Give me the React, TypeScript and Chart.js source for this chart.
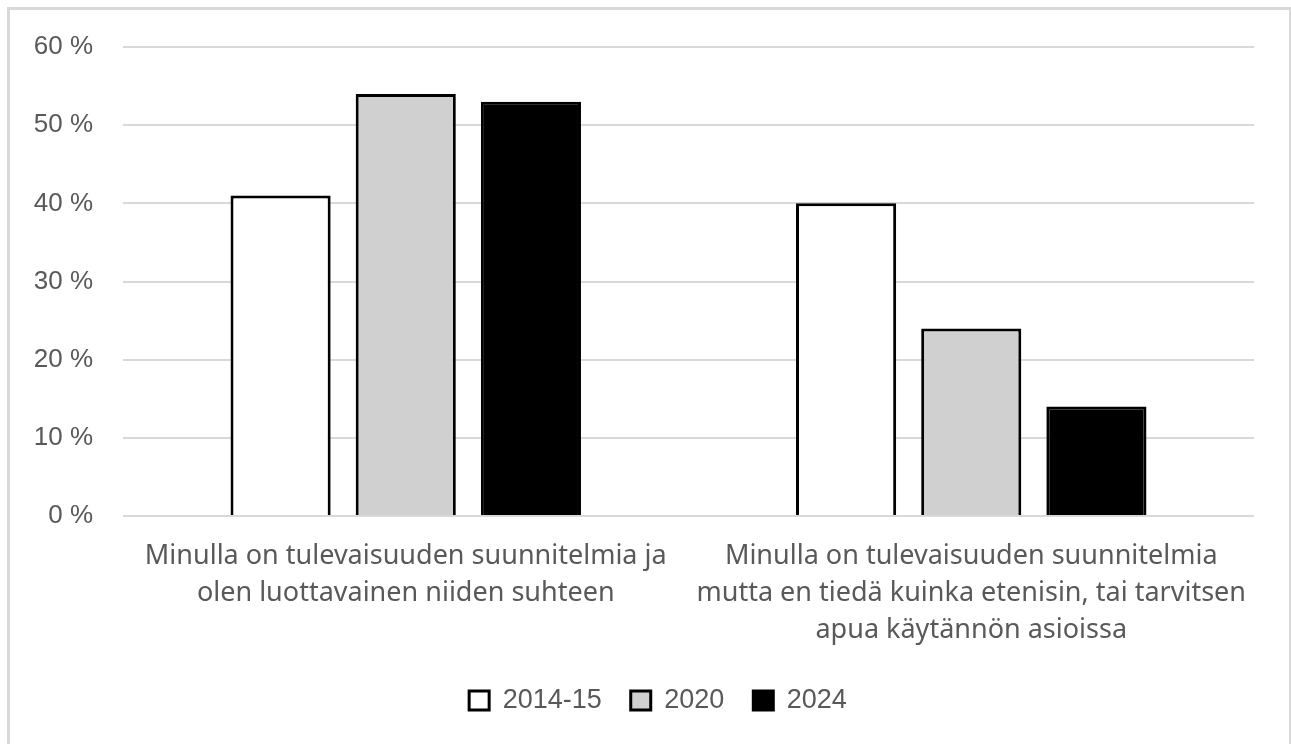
import React, { useEffect, useRef } from "react";
import { Chart, registerables } from "chart.js";

Chart.register(...registerables);

const categories: string[][] = [
  ["Minulla on tulevaisuuden suunnitelmia ja", "olen luottavainen niiden suhteen"],
  [
    "Minulla on tulevaisuuden suunnitelmia",
    "mutta en tiedä kuinka etenisin, tai tarvitsen",
    "apua käytännön asioissa",
  ],
];
const seriesNames = ["2014-15", "2020", "2024"];
const values2014 = [41, 40];
const values2020 = [54, 24];
const values2024 = [53, 14];
const yTicks = [0, 10, 20, 30, 40, 50, 60];

const fills = ["#ffffff", "#d0d0d0", "#000000"];
const TEXT = "#595959";

const legendSpan = {
  id: "legendSpan",
  afterLayout(chart: any) {
    if (chart.legend) {
      chart.legend.left = 4;
      chart.legend.right = 1292;
    }
  },
};

export default function App() {
  const ref = useRef<HTMLCanvasElement | null>(null);
  useEffect(() => {
    if (!ref.current) return;
    const seriesValues = [values2014, values2020, values2024];
    const chart = new Chart(ref.current, {
      type: "bar",
      plugins: [legendSpan],
      data: {
        labels: categories,
        datasets: seriesNames.map((name, i) => ({
          label: name,
          data: seriesValues[i],
          backgroundColor: fills[i],
          borderColor: "#000000",
          borderWidth: 3,
          categoryPercentage: 0.664,
          barPercentage: 0.8,
        })),
      },
      options: {
        responsive: false,
        animation: false,
        layout: { padding: { top: 37, right: 35, bottom: 20, left: 0 } },
        plugins: {
          tooltip: { enabled: false },
          legend: {
            position: "bottom",
            labels: {
              boxWidth: 20,
              boxHeight: 19,
              padding: 29,
              color: TEXT,
              font: { family: "'Liberation Sans', Arial, sans-serif", size: 27 },
              generateLabels: () =>
                seriesNames.map((name, i) => ({
                  text: name,
                  fillStyle: fills[i],
                  strokeStyle: "#000000",
                  lineWidth: 3,
                  fontColor: TEXT,
                  hidden: false,
                  datasetIndex: i,
                })),
            },
          },
        },
        scales: {
          x: {
            grid: { display: false, drawTicks: false },
            border: { display: false },
            afterFit: (scale: any) => {
              scale.height = 142;
            },
            ticks: {
              color: TEXT,
              padding: 22,
              maxRotation: 0,
              autoSkip: false,
              font: { family: "'Noto Sans', sans-serif", size: 27, lineHeight: 1.37 },
            },
          },
          y: {
            min: 0,
            max: 60,
            afterBuildTicks: (scale: any) => {
              scale.ticks = yTicks.map((v) => ({ value: v }));
            },
            afterFit: (scale: any) => {
              scale.width = 113;
              scale.paddingTop = 0;
            },
            grid: { color: "#d9d9d9", lineWidth: 2, drawTicks: false },
            border: { display: false },
            ticks: {
              color: TEXT,
              padding: 30,
              font: { family: "'Liberation Sans', Arial, sans-serif", size: 26 },
              callback: (v: any) => `${v} %`,
            },
          },
        },
      },
    });
    return () => chart.destroy();
  }, []);
  return (
    <div
      style={{
        position: "absolute",
        left: 7,
        top: 7,
        width: 1285,
        height: 760,
        boxSizing: "border-box",
        border: "3px solid #d9d9d9",
        background: "#ffffff",
        overflow: "hidden",
      }}
    >
      <canvas ref={ref} width={1279} height={734} style={{ display: "block" }} />
    </div>
  );
}
